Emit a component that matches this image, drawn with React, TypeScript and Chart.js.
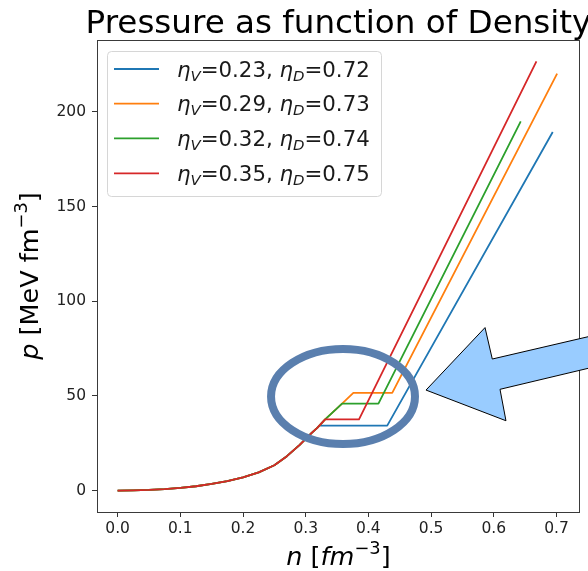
import React, { useEffect, useRef } from "react";
import { Chart, registerables } from "chart.js";

Chart.register(...registerables);

// ---- data ----
const baseN = [0, 0.025, 0.05, 0.075, 0.1, 0.125, 0.15, 0.175, 0.2, 0.225, 0.25, 0.27, 0.29, 0.31, 0.318];
const baseP = [0, 0.1, 0.35, 0.8, 1.45, 2.3, 3.5, 5.0, 7.0, 9.6, 13.4, 18.2, 24.0, 30.6, 33.0];

const blueTailN = [0.322, 0.43, 0.694];
const blueTailP = [34.3, 34.3, 189.4];
const orangeTailN = [0.331, 0.358, 0.376, 0.438, 0.701];
const orangeTailP = [37.6, 45.9, 51.6, 51.6, 220.2];
const greenTailN = [0.331, 0.358, 0.416, 0.643];
const greenTailP = [37.6, 45.9, 45.9, 195.0];
const redTailN = [0.331, 0.385, 0.668];
const redTailP = [37.6, 37.6, 226.7];

const etaV = ["0.23", "0.29", "0.32", "0.35"];
const etaD = ["0.72", "0.73", "0.74", "0.75"];
const seriesColors = ["#1f77b4", "#ff7f0e", "#2ca02c", "#d62728"];

const xTicks = [0, 0.1, 0.2, 0.3, 0.4, 0.5, 0.6, 0.7];
const yTicks = [0, 50, 100, 150, 200];
const xRange = [-0.0329, 0.7375];
const yRange = [-11.3, 238.0];

// annotation shapes, in data coordinates
const ellipseCenter = [0.3595, 49.7];
const ellipseRadii = [0.1148, 25.1];
const arrowN = [0.4919, 0.586, 0.5976, 0.8013, 0.8013, 0.6099, 0.6194];
const arrowP = [53.1, 86.1, 69.5, 85.2, 68.6, 53.5, 36.9];

const FONT = '"DejaVu Sans", "Liberation Sans", sans-serif';

type Run = { t: string; it?: boolean; sc?: number; dy?: number };

function runFont(r: Run, size: number) {
  const s = size * (r.sc ?? 1);
  return `${r.it ? "italic " : ""}${s}px ${FONT}`;
}

function measureRuns(ctx: CanvasRenderingContext2D, runs: Run[], size: number) {
  let w = 0;
  for (const r of runs) {
    ctx.font = runFont(r, size);
    w += ctx.measureText(r.t).width;
  }
  return w;
}

function drawRuns(
  ctx: CanvasRenderingContext2D,
  runs: Run[],
  size: number,
  x: number,
  y: number,
  align: "left" | "center"
) {
  const w = measureRuns(ctx, runs, size);
  let cx = align === "center" ? x - w / 2 : x;
  ctx.textAlign = "left";
  ctx.textBaseline = "alphabetic";
  for (const r of runs) {
    ctx.font = runFont(r, size);
    ctx.fillText(r.t, cx, y - (r.dy ?? 0) * size);
    cx += ctx.measureText(r.t).width;
  }
}

const decorPlugin = {
  id: "decor",
  afterDatasetsDraw(chart: any) {
    const ctx: CanvasRenderingContext2D = chart.ctx;
    const xs = chart.scales.x;
    const ys = chart.scales.y;
    const area = chart.chartArea;

    // frame
    ctx.save();
    ctx.strokeStyle = "#3a3a3a";
    ctx.lineWidth = 1;
    ctx.strokeRect(
      Math.round(area.left) + 0.5,
      Math.round(area.top) + 0.5,
      Math.round(area.right - area.left) - 1,
      Math.round(area.bottom - area.top)
    );
    ctx.restore();

    // legend
    ctx.save();
    const lx = 107.5, ly = 51.5, lw = 274, lh = 145, rad = 4;
    ctx.beginPath();
    ctx.moveTo(lx + rad, ly);
    ctx.arcTo(lx + lw, ly, lx + lw, ly + lh, rad);
    ctx.arcTo(lx + lw, ly + lh, lx, ly + lh, rad);
    ctx.arcTo(lx, ly + lh, lx, ly, rad);
    ctx.arcTo(lx, ly, lx + lw, ly, rad);
    ctx.closePath();
    ctx.fillStyle = "rgba(255,255,255,0.8)";
    ctx.fill();
    ctx.strokeStyle = "#d6d6d6";
    ctx.lineWidth = 1;
    ctx.stroke();
    const rowY = [69, 103.7, 138.3, 173.3];
    for (let i = 0; i < 4; i++) {
      ctx.strokeStyle = seriesColors[i];
      ctx.lineWidth = 1.8;
      ctx.beginPath();
      ctx.moveTo(114, rowY[i]);
      ctx.lineTo(159, rowY[i]);
      ctx.stroke();
      ctx.fillStyle = "#1a1a1a";
      drawRuns(
        ctx,
        [
          { t: "η", it: true },
          { t: "V", it: true, sc: 0.7, dy: -0.2 },
          { t: "=" + etaV[i] + ", " },
          { t: "η", it: true },
          { t: "D", it: true, sc: 0.7, dy: -0.2 },
          { t: "=" + etaD[i] },
        ],
        21.3,
        177,
        rowY[i] + 7.5,
        "left"
      );
    }
    ctx.restore();

    // ellipse annotation
    ctx.save();
    const ecx = xs.getPixelForValue(ellipseCenter[0]);
    const ecy = ys.getPixelForValue(ellipseCenter[1]);
    const erx = Math.abs(xs.getPixelForValue(ellipseCenter[0] + ellipseRadii[0]) - ecx);
    const ery = Math.abs(ys.getPixelForValue(ellipseCenter[1] + ellipseRadii[1]) - ecy);
    ctx.beginPath();
    ctx.ellipse(ecx, ecy, erx, ery, 0, 0, Math.PI * 2);
    ctx.strokeStyle = "#5a7fae";
    ctx.lineWidth = 8;
    ctx.stroke();
    ctx.restore();

    // arrow annotation
    ctx.save();
    ctx.beginPath();
    for (let i = 0; i < arrowN.length; i++) {
      const px = xs.getPixelForValue(arrowN[i]);
      const py = ys.getPixelForValue(arrowP[i]);
      if (i === 0) ctx.moveTo(px, py);
      else ctx.lineTo(px, py);
    }
    ctx.closePath();
    ctx.fillStyle = "#99ccff";
    ctx.fill();
    ctx.strokeStyle = "#000000";
    ctx.lineWidth = 1;
    ctx.stroke();
    ctx.restore();
  },
  afterDraw(chart: any) {
    const ctx: CanvasRenderingContext2D = chart.ctx;
    const area = chart.chartArea;
    const cx = (area.left + area.right) / 2;
    const cy = (area.top + area.bottom) / 2;
    ctx.save();
    ctx.fillStyle = "#000000";
    drawRuns(ctx, [{ t: "Pressure as function of Density" }], 32.6, cx, 32.5, "center");
    drawRuns(
      ctx,
      [
        { t: "n", it: true },
        { t: " [" },
        { t: "fm", it: true },
        { t: "−3", sc: 0.7, dy: 0.45 },
        { t: "]" },
      ],
      25.5,
      cx,
      565,
      "center"
    );
    ctx.translate(38, cy);
    ctx.rotate(-Math.PI / 2);
    drawRuns(
      ctx,
      [
        { t: "p", it: true },
        { t: " [MeV fm" },
        { t: "−3", sc: 0.7, dy: 0.45 },
        { t: "]" },
      ],
      25.5,
      0,
      0,
      "center"
    );
    ctx.restore();
  },
};

function pts(ns: number[], ps: number[]) {
  return ns.map((n, i) => ({ x: n, y: ps[i] }));
}

export default function App() {
  const ref = useRef<HTMLCanvasElement | null>(null);
  useEffect(() => {
    if (!ref.current) return;
    const tails = [
      [blueTailN, blueTailP],
      [orangeTailN, orangeTailP],
      [greenTailN, greenTailP],
      [redTailN, redTailP],
    ];
    const datasets = tails.map(([tn, tp], i) => ({
      label: `ηV=${etaV[i]}, ηD=${etaD[i]}`,
      data: pts([...baseN, ...tn], [...baseP, ...tp]),
      borderColor: seriesColors[i],
      backgroundColor: seriesColors[i],
      borderWidth: 1.8,
      pointRadius: 0,
      pointHoverRadius: 0,
      fill: false,
      tension: 0,
      borderCapStyle: "butt" as const,
      borderJoinStyle: "round" as const,
      order: 4 - i,
    }));
    const tickFont = { family: FONT, size: 15.5 };
    const chart = new Chart(ref.current, {
      type: "line",
      data: { datasets },
      plugins: [decorPlugin],
      options: {
        animation: false,
        responsive: false,
        devicePixelRatio: 1,
        layout: { padding: { top: 40, right: 8, left: 0, bottom: 0 } },
        plugins: {
          legend: { display: false },
          title: { display: false },
          tooltip: { enabled: false },
        },
        scales: {
          x: {
            type: "linear",
            min: xRange[0],
            max: xRange[1],
            afterBuildTicks: (axis: any) => {
              axis.ticks = xTicks.map((v) => ({ value: v }));
            },
            afterFit: (axis: any) => {
              axis.height = 59;
            },
            ticks: {
              callback: (v: any) => Number(v).toFixed(1),
              font: tickFont,
              color: "#222222",
              padding: 3,
              maxRotation: 0,
              autoSkip: false,
            },
            grid: {
              display: true,
              drawOnChartArea: false,
              drawTicks: true,
              tickLength: 5,
              color: "#333333",
              lineWidth: 1,
            },
            border: { display: false },
          },
          y: {
            type: "linear",
            min: yRange[0],
            max: yRange[1],
            afterBuildTicks: (axis: any) => {
              axis.ticks = yTicks.map((v) => ({ value: v }));
            },
            afterFit: (axis: any) => {
              axis.width = 97;
            },
            ticks: {
              callback: (v: any) => String(v),
              font: tickFont,
              color: "#222222",
              padding: 6,
              autoSkip: false,
            },
            grid: {
              display: true,
              drawOnChartArea: false,
              drawTicks: true,
              tickLength: 5,
              color: "#333333",
              lineWidth: 1,
            },
            border: { display: false },
          },
        },
      },
    } as any);
    return () => chart.destroy();
  }, []);
  return (
    <div style={{ position: "fixed", left: 0, top: 0, width: 588, height: 571, background: "#fff" }}>
      <canvas ref={ref} width={588} height={571} style={{ display: "block" }} />
    </div>
  );
}
